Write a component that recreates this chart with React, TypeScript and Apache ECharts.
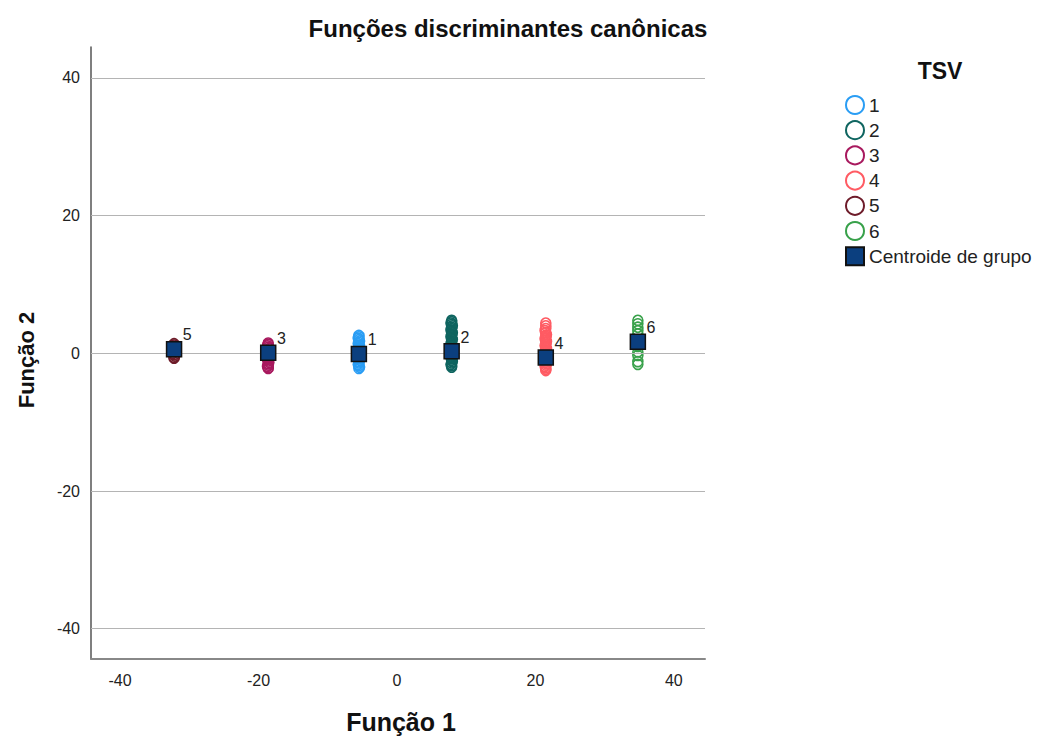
import React, { useEffect, useRef } from "react";
import * as echarts from "echarts";

const groupNames = ["1", "2", "3", "4", "5", "6"];
const groupColors = ["#2a9df4", "#0f6560", "#a8195e", "#ff5b63", "#6e1c2a", "#38a14a"];

const group1: number[][] = [
  [-5.5, 2.6], [-5.5, 2.4], [-5.6, 2.2], [-5.5, 2.0], [-5.4, 1.8], [-5.5, 1.6], [-5.6, 1.4],
  [-5.5, 1.2], [-5.4, 1.0], [-5.5, 0.8], [-5.5, 0.6], [-5.6, 0.4], [-5.5, 0.2], [-5.4, 0.0],
  [-5.5, -0.2], [-5.5, -0.4], [-5.6, -0.6], [-5.5, -0.8], [-5.4, -1.0], [-5.5, -1.2], [-5.5, -1.4],
  [-5.6, -1.6], [-5.5, -1.8], [-5.4, -2.0], [-5.5, -2.2],
];
const group2: number[][] = [
  [7.9, 4.8], [7.9, 4.6], [7.8, 4.4], [7.9, 4.2], [8.0, 4.0], [7.9, 3.8], [7.9, 3.6], [7.8, 3.4],
  [7.9, 3.2], [8.0, 3.0], [7.9, 2.8], [7.9, 2.6], [7.8, 2.4], [7.9, 2.2], [8.0, 2.0], [7.9, 1.8],
  [7.9, 1.6], [7.8, 1.4], [7.9, 1.2], [8.0, 1.0], [7.9, 0.8], [7.9, 0.6], [7.8, 0.4], [7.9, 0.2],
  [7.9, 0.0], [8.0, -0.2], [7.9, -0.4], [7.8, -0.6], [7.9, -0.8], [7.9, -1.0], [8.0, -1.2],
  [7.9, -1.4], [7.8, -1.6], [7.9, -1.8], [7.9, -2.0],
];
const group3: number[][] = [
  [-18.6, 1.5], [-18.6, 1.3], [-18.7, 1.1], [-18.6, 0.9], [-18.5, 0.7], [-18.6, 0.5], [-18.6, 0.3],
  [-18.7, 0.1], [-18.6, -0.1], [-18.5, -0.3], [-18.6, -0.5], [-18.6, -0.7], [-18.7, -0.9], [-18.6, -1.1],
  [-18.5, -1.3], [-18.6, -1.5], [-18.6, -1.7], [-18.7, -1.9], [-18.6, -2.1], [-18.6, -2.2],
];
const group4: number[][] = [
  [21.5, 4.4], [21.5, 4.0], [21.5, 3.6], [21.4, 3.3], [21.5, 3.0], [21.6, 2.7], [21.5, 2.5],
  [21.5, 2.3], [21.4, 2.1], [21.5, 1.9], [21.6, 1.7], [21.5, 1.5], [21.5, 1.3], [21.4, 1.1],
  [21.5, 0.9], [21.6, 0.7], [21.5, 0.5], [21.5, 0.3], [21.4, 0.1], [21.5, -0.1], [21.5, -0.3],
  [21.6, -0.5], [21.5, -0.7], [21.4, -0.9], [21.5, -1.1], [21.5, -1.3], [21.6, -1.5], [21.5, -1.7],
  [21.4, -1.9], [21.5, -2.1], [21.5, -2.3], [21.5, -2.5],
];
const group5: number[][] = [
  [-32.2, 1.4], [-32.2, 1.2], [-32.3, 1.0], [-32.2, 0.8], [-32.1, 0.6], [-32.2, 0.4], [-32.2, 0.2],
  [-32.3, 0.0], [-32.2, -0.2], [-32.1, -0.4], [-32.2, -0.6], [-32.2, -0.7],
];
const group6: number[][] = [
  [34.8, 4.8], [34.8, 4.3], [34.8, 3.8], [34.8, 3.3], [34.8, 2.8], [34.8, 2.0], [34.8, 1.0],
  [34.8, 0.2], [34.8, -0.3], [34.8, -1.2], [34.8, -1.6],
];
const groupPoints = [group1, group2, group3, group4, group5, group6];

const centroidNames = ["5", "3", "1", "2", "4", "6"];
const centroidX = [-32.2, -18.6, -5.5, 7.9, 21.5, 34.8];
const centroidY = [0.6, 0.1, -0.1, 0.3, -0.6, 1.7];

const tickValues = [-40, -20, 0, 20, 40];

const FONT = "Liberation Sans, Arial, sans-serif";

export default function App() {
  const ref = useRef<HTMLDivElement>(null);
  useEffect(() => {
    if (!ref.current) return;
    const chart = echarts.init(ref.current, undefined, { renderer: "svg" });
    const series: any[] = groupNames.map((name, i) => ({
      name,
      type: "scatter",
      data: groupPoints[i],
      symbol: "circle",
      symbolSize: 10,
      itemStyle: {
        color: "rgba(255,255,255,0)",
        borderColor: groupColors[i],
        borderWidth: 1.6,
        opacity: 1,
      },
      z: 3,
    }));
    series.push({
      name: "Centroide de grupo",
      type: "scatter",
      symbol: "rect",
      symbolSize: 15,
      data: centroidX.map((x, i) => ({ value: [x, centroidY[i]], name: centroidNames[i] })),
      itemStyle: { color: "#0b3f7f", borderColor: "#111", borderWidth: 1.5, opacity: 1 },
      label: {
        show: true,
        formatter: (p: any) => p.name,
        position: [17, -14],
        align: "left",
        verticalAlign: "top",
        fontSize: 16,
        color: "#222",
        fontFamily: FONT,
      },
      z: 5,
    });
    series.push({
      type: "line",
      data: [],
      silent: true,
      markLine: {
        silent: true,
        symbol: "none",
        label: { show: false },
        lineStyle: { color: "#b4b4b4", width: 1, type: "solid" },
        data: tickValues.map((v) => ({ yAxis: v })),
      },
      z: 1,
    });
    chart.setOption({
      animation: false,
      backgroundColor: "#fff",
      graphic: [
        {
          type: "text",
          x: 508,
          y: 28,
          style: {
            text: "Funções discriminantes canônicas",
            align: "center",
            verticalAlign: "middle",
            fontSize: 24,
            fontWeight: "bold",
            fill: "#111",
            fontFamily: FONT,
          },
        },
        {
          type: "text",
          x: 940,
          y: 71,
          style: {
            text: "TSV",
            align: "center",
            verticalAlign: "middle",
            fontSize: 23,
            fontWeight: "bold",
            fill: "#111",
            fontFamily: FONT,
          },
        },
        {
          type: "text",
          x: 401,
          y: 722,
          style: {
            text: "Função 1",
            align: "center",
            verticalAlign: "middle",
            fontSize: 25,
            fontWeight: "bold",
            fill: "#111",
            fontFamily: FONT,
          },
        },
        {
          type: "text",
          x: 26,
          y: 360,
          rotation: Math.PI / 2,
          style: {
            text: "Função 2",
            align: "center",
            verticalAlign: "middle",
            fontSize: 22,
            fontWeight: "bold",
            fill: "#111",
            fontFamily: FONT,
          },
        },
      ],
      legend: {
        orient: "vertical",
        left: 845,
        top: 95,
        padding: 0,
        itemWidth: 18,
        itemHeight: 18,
        itemGap: 5.2,
        data: [...groupNames, "Centroide de grupo"],
        textStyle: { fontSize: 19, color: "#222", fontFamily: FONT },
      },
      grid: { left: 91, right: 333, top: 47, bottom: 77 },
      xAxis: {
        type: "value",
        min: -44.2,
        max: 44.5,
        axisLine: { show: true, onZero: false, lineStyle: { color: "#888", width: 2 } },
        axisTick: { show: false },
        splitLine: { show: false },
        axisLabel: {
          customValues: tickValues,
          fontSize: 16,
          color: "#222",
          fontFamily: FONT,
          margin: 13,
        },
      },
      yAxis: {
        type: "value",
        min: -44.4,
        max: 44.5,
        axisLine: { show: true, onZero: false, lineStyle: { color: "#555", width: 1.5 } },
        axisTick: { show: false },
        splitLine: { show: false },
        axisLabel: {
          customValues: tickValues,
          fontSize: 16,
          color: "#222",
          fontFamily: FONT,
          margin: 11,
        },
      },
      series,
    });
    return () => chart.dispose();
  }, []);
  return (
    <div
      ref={ref}
      style={{ position: "fixed", left: 0, top: 0, width: 1038, height: 736, background: "#fff" }}
    />
  );
}
